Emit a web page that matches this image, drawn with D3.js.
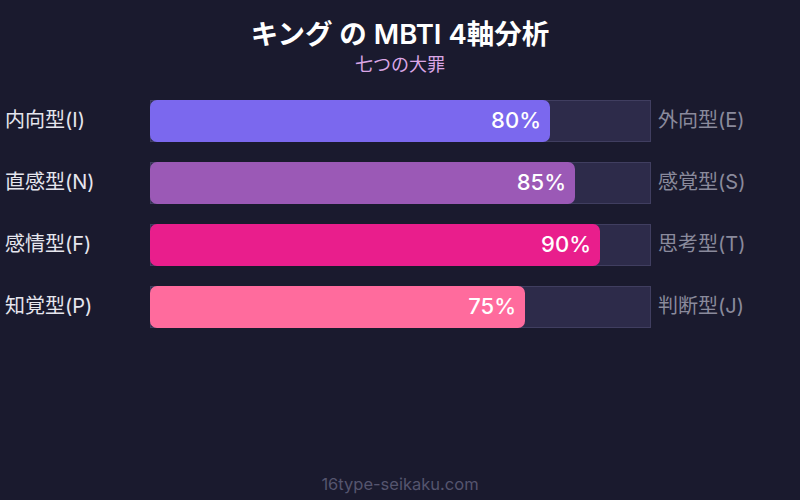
<!DOCTYPE html>
<html>
<head>
<meta charset="utf-8">
<script src="https://cdn.jsdelivr.net/npm/d3@7"></script>
<style>
  html, body { margin: 0; padding: 0; background: #1a1a2e; }
  svg { display: block; font-family: Inter, "Noto Sans CJK JP", sans-serif; }
</style>
</head>
<body>
<div id="chart"></div>
<script>
// chart data
var leftLabels = ["内向型(I)", "直感型(N)", "感情型(F)", "知覚型(P)"];
var rightLabels = ["外向型(E)", "感覚型(S)", "思考型(T)", "判断型(J)"];
var percents = [80, 85, 90, 75];
var barColors = ["#7b68ee", "#9b59b6", "#e91e8c", "#ff6b9d"];

var width = 800, height = 500;

var svg = d3.select("#chart").append("svg")
  .attr("width", width)
  .attr("height", height);

svg.append("rect")
  .attr("width", width).attr("height", height)
  .attr("fill", "#1a1a2e");

// title
svg.append("text")
  .attr("x", width / 2).attr("y", 44)
  .attr("text-anchor", "middle")
  .attr("fill", "#ffffff")
  .attr("font-size", 27.5).attr("font-weight", 600)
  .text("キング の MBTI 4軸分析");

svg.append("text")
  .attr("x", width / 2).attr("y", 71)
  .attr("text-anchor", "middle")
  .attr("fill", "#dba6e6")
  .attr("font-size", 18)
  .text("七つの大罪");

// scales
var x = d3.scaleLinear().domain([0, 100]).range([150, 650]);
var y = d3.scaleBand()
  .domain(d3.range(percents.length))
  .range([100, 100 + 62 * 4 - 20])
  .paddingInner(20 / 62)
  .paddingOuter(0);

var rows = svg.append("g")
  .selectAll("g")
  .data(percents)
  .enter().append("g");

// track
rows.append("rect")
  .attr("x", x(0) + 0.5)
  .attr("y", function(d, i) { return y(i) + 0.5; })
  .attr("width", x(100) - x(0))
  .attr("height", y.bandwidth() - 1)
  .attr("fill", "#2d2b4a")
  .attr("stroke", "#403e60")
  .attr("stroke-width", 1);

// filled bar
rows.append("rect")
  .attr("x", x(0))
  .attr("y", function(d, i) { return y(i); })
  .attr("width", function(d) { return x(d) - x(0); })
  .attr("height", y.bandwidth())
  .attr("rx", 7)
  .attr("fill", function(d, i) { return barColors[i]; });

// percent text
rows.append("text")
  .attr("x", function(d) { return x(d) - 9; })
  .attr("y", function(d, i) { return y(i) + y.bandwidth() / 2; })
  .attr("dy", "0.33em")
  .attr("text-anchor", "end")
  .attr("fill", "#ffffff")
  .attr("font-size", 22).attr("font-weight", 500)
  .text(function(d) { return d + "%"; });

// left labels
rows.append("text")
  .attr("x", 5)
  .attr("y", function(d, i) { return y(i) + y.bandwidth() / 2; })
  .attr("dy", "0.3em")
  .attr("fill", "#e6e6ee")
  .attr("font-size", 20).attr("font-weight", 400)
  .text(function(d, i) { return leftLabels[i]; });

// right labels
rows.append("text")
  .attr("x", 658)
  .attr("y", function(d, i) { return y(i) + y.bandwidth() / 2; })
  .attr("dy", "0.3em")
  .attr("fill", "#8a8a9c")
  .attr("font-size", 20).attr("font-weight", 400)
  .text(function(d, i) { return rightLabels[i]; });

// footer
svg.append("text")
  .attr("x", width / 2).attr("y", 490)
  .attr("text-anchor", "middle")
  .attr("fill", "#55556e")
  .attr("font-size", 16.5)
  .text("16type-seikaku.com");
</script>
</body>
</html>
